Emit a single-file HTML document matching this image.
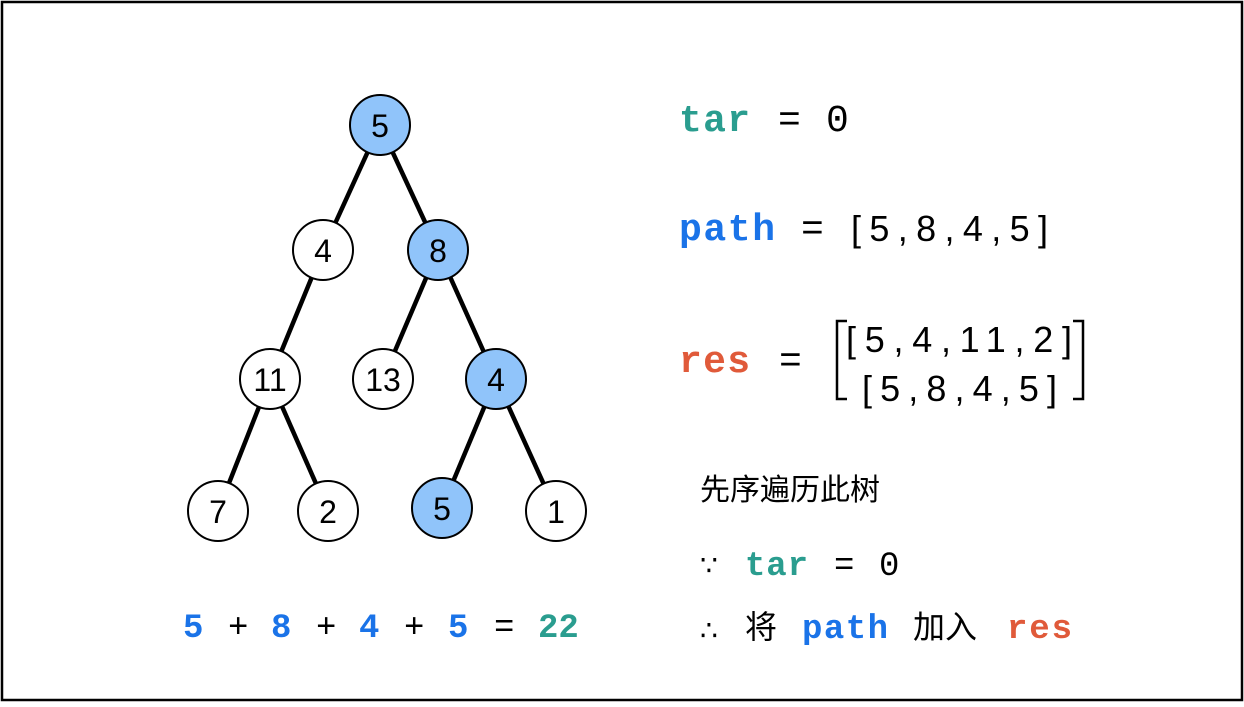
<!DOCTYPE html>
<html><head><meta charset="utf-8"><style>
body{margin:0;width:1244px;height:702px;background:#fff;overflow:hidden}
svg text{font-family:"Liberation Mono","Noto Sans CJK SC",monospace}
svg text.s{font-family:"Liberation Sans",sans-serif}
svg text.c{font-family:"Noto Sans CJK SC",sans-serif}
svg text.d{font-family:"DejaVu Sans",sans-serif}
</style></head><body>
<svg width="1244" height="702" xmlns="http://www.w3.org/2000/svg">
<rect x="2" y="2" width="1240" height="698" fill="#fff" stroke="#000" stroke-width="2.5"/>
<g stroke="#000" stroke-width="4.5">
<line x1="380" y1="125" x2="323" y2="250"/><line x1="380" y1="125" x2="438" y2="250"/>
<line x1="323" y1="250" x2="270" y2="379"/>
<line x1="438" y1="250" x2="383" y2="379"/><line x1="438" y1="250" x2="496" y2="379"/>
<line x1="270" y1="379" x2="218" y2="511"/><line x1="270" y1="379" x2="328" y2="511"/>
<line x1="496" y1="379" x2="442" y2="508"/><line x1="496" y1="379" x2="556" y2="511"/>
</g>
<g stroke="#000" stroke-width="2">
<circle cx="380" cy="125" r="30" fill="#90c4fa"/>
<circle cx="323" cy="250" r="30" fill="#fff"/>
<circle cx="438" cy="250" r="30" fill="#90c4fa"/>
<circle cx="270" cy="379" r="30" fill="#fff"/>
<circle cx="383" cy="379" r="30" fill="#fff"/>
<circle cx="496" cy="379" r="30" fill="#90c4fa"/>
<circle cx="218" cy="511" r="30" fill="#fff"/>
<circle cx="328" cy="511" r="30" fill="#fff"/>
<circle cx="442" cy="508" r="30" fill="#90c4fa"/>
<circle cx="556" cy="511" r="30" fill="#fff"/>
</g>
<g font-size="32" text-anchor="middle" fill="#000">
<text class="s" x="380" y="137">5</text><text class="s" x="323" y="262">4</text><text class="s" x="438" y="262">8</text>
<text class="s" x="270" y="391">11</text><text class="s" x="383" y="391">13</text><text class="s" x="496" y="391">4</text>
<text class="s" x="218" y="523">7</text><text class="s" x="328" y="523">2</text><text class="s" x="442" y="520">5</text><text class="s" x="556" y="523">1</text>
</g>
<g font-size="34" font-weight="bold">
<text x="183" y="637" fill="#1a73e8">5</text><text x="228" y="637" fill="#000" font-weight="normal">+</text>
<text x="271" y="637" fill="#1a73e8">8</text><text x="316" y="637" fill="#000" font-weight="normal">+</text>
<text x="359" y="637" fill="#1a73e8">4</text><text x="404" y="637" fill="#000" font-weight="normal">+</text>
<text x="448" y="637" fill="#1a73e8">5</text><text x="494" y="637" fill="#000" font-weight="normal">=</text>
<text x="538" y="637" fill="#2a9d8f">22</text>
</g>
<g font-size="38">
<text x="679" y="131" font-weight="bold" fill="#2a9d8f" textLength="71">tar</text>
<text x="778" y="131" fill="#000">=</text><text x="826" y="131" fill="#000">0</text>
<text x="679" y="240" font-weight="bold" fill="#1a73e8" textLength="96">path</text>
<text x="801" y="240" fill="#000">=</text>
<text x="679" y="372" font-weight="bold" fill="#e05a3a" textLength="71">res</text>
<text x="779" y="372" fill="#000">=</text>
</g>
<g font-size="36" fill="#000">
<text class="s" x="851" y="241" textLength="197" lengthAdjust="spacing">[5,8,4,5]</text>
<text class="s" x="846" y="352" textLength="226" lengthAdjust="spacing">[5,4,11,2]</text>
<text class="s" x="862" y="401" textLength="195" lengthAdjust="spacing">[5,8,4,5]</text>
</g>
<path d="M847 321 h-10 v78 h10 M1073 321 h10 v78 h-10" fill="none" stroke="#000" stroke-width="2.5"/>
<text class="c" x="700" y="500" font-size="30" fill="#000">先序遍历此树</text>
<g font-size="34">
<text class="d" x="700" y="575" fill="#000" font-size="28">∵</text>
<text x="745" y="575" font-weight="bold" fill="#2a9d8f" textLength="63">tar</text>
<text x="834" y="575" fill="#000">=</text><text x="879" y="575" fill="#000">0</text>
<text class="d" x="700" y="640" fill="#000" font-size="28">∴</text>
<text class="c" x="745" y="638" fill="#000" font-size="32">将</text>
<text x="802" y="638" font-weight="bold" fill="#1a73e8" textLength="86">path</text>
<text class="c" x="913" y="638" fill="#000" font-size="32">加入</text>
<text x="1007" y="638" font-weight="bold" fill="#e05a3a" textLength="65">res</text>
</g>
</svg>
</body></html>
